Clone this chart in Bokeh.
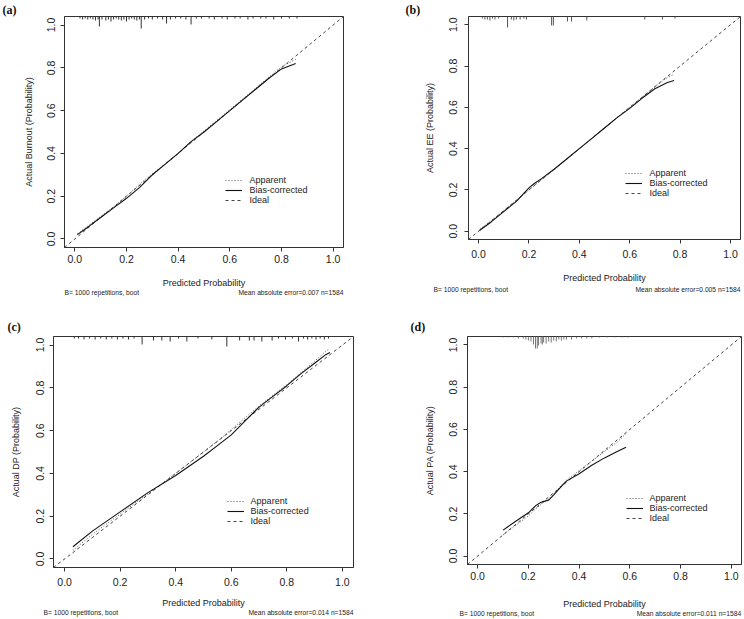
from bokeh.plotting import figure
from bokeh.layouts import column, row
from bokeh.models import (Range1d, FixedTicker, NumeralTickFormatter, Legend, Title,
                          LinearAxis, CustomJSTickFormatter)
from bokeh.embed import file_html
from bokeh.resources import INLINE

# ---------------- data ----------------
LO, HI = -0.04, 1.04
TICKS = [0.0, 0.2, 0.4, 0.6, 0.8, 1.0]
legend_labels = ["Apparent", "Bias-corrected", "Ideal"]
x_title = "Predicted Probability"
foot_left = "B= 1000 repetitions, boot"

# (a) Burnout
a_x = [0.01, 0.05, 0.10, 0.15, 0.20, 0.25, 0.30, 0.35, 0.40, 0.45, 0.50, 0.55, 0.60, 0.65, 0.70, 0.75, 0.80, 0.855]
a_app = [0.025, 0.06, 0.105, 0.15, 0.20, 0.255, 0.305, 0.35, 0.40, 0.455, 0.505, 0.555, 0.605, 0.655, 0.705, 0.755, 0.805, 0.84]
a_bias = [0.02, 0.055, 0.10, 0.145, 0.19, 0.24, 0.30, 0.35, 0.40, 0.455, 0.50, 0.55, 0.60, 0.65, 0.70, 0.75, 0.795, 0.82]
a_rug_x = [0.02, 0.03, 0.04, 0.05, 0.06, 0.07, 0.08, 0.09, 0.095, 0.105, 0.12, 0.13, 0.14, 0.15, 0.16, 0.17, 0.18,
           0.19, 0.20, 0.21, 0.22, 0.23, 0.24, 0.25, 0.257, 0.27, 0.285, 0.30, 0.32, 0.34, 0.355, 0.37, 0.39, 0.41,
           0.43, 0.45, 0.47, 0.49, 0.52, 0.54, 0.57, 0.59, 0.62, 0.64, 0.67, 0.69, 0.72, 0.74, 0.77, 0.80, 0.83, 0.86]
a_rug_n = [2, 3, 2, 3, 2, 3, 4, 3, 10, 3, 4, 3, 5, 3, 2, 3, 4,
           3, 5, 3, 2, 3, 4, 3, 12, 3, 2, 3, 2, 3, 7, 3, 2, 2,
           3, 8, 2, 2, 2, 3, 2, 3, 2, 2, 3, 2, 2, 2, 3, 2, 2, 2]

# (b) EE
b_x = [0.005, 0.05, 0.10, 0.15, 0.20, 0.22, 0.25, 0.30, 0.35, 0.40, 0.45, 0.50, 0.55, 0.60, 0.65, 0.70, 0.75, 0.776]
b_app = [0.01, 0.05, 0.10, 0.15, 0.20, 0.22, 0.25, 0.30, 0.35, 0.40, 0.45, 0.50, 0.55, 0.60, 0.65, 0.70, 0.745, 0.76]
b_bias = [0.005, 0.045, 0.095, 0.145, 0.21, 0.23, 0.255, 0.30, 0.35, 0.40, 0.45, 0.50, 0.55, 0.595, 0.645, 0.69, 0.72, 0.73]
b_rug_x = [0.015, 0.025, 0.035, 0.045, 0.055, 0.065, 0.08, 0.115, 0.13, 0.14, 0.15, 0.165, 0.18, 0.19,
           0.29, 0.297, 0.353, 0.369, 0.43, 0.66, 0.73, 0.78]
b_rug_n = [2, 3, 3, 4, 2, 3, 2, 11, 3, 4, 3, 3, 2, 3,
           9, 9, 5, 5, 4, 3, 3, 2]

# (c) DP
c_x = [0.03, 0.10, 0.20, 0.30, 0.40, 0.50, 0.55, 0.60, 0.65, 0.70, 0.75, 0.80, 0.85, 0.90, 0.94, 0.955]
c_app = [0.04, 0.115, 0.21, 0.305, 0.40, 0.50, 0.55, 0.605, 0.66, 0.715, 0.765, 0.815, 0.87, 0.925, 0.97, 0.985]
c_bias = [0.057, 0.13, 0.22, 0.31, 0.39, 0.48, 0.53, 0.58, 0.645, 0.71, 0.76, 0.81, 0.865, 0.915, 0.955, 0.965]
c_rug_x = [0.035, 0.05, 0.07, 0.09, 0.11, 0.13, 0.15, 0.17, 0.19, 0.21, 0.23, 0.25, 0.279, 0.32, 0.35, 0.38,
           0.41, 0.44, 0.48, 0.53, 0.584, 0.63, 0.665, 0.682, 0.71, 0.747, 0.77, 0.795, 0.82, 0.842, 0.86,
           0.875, 0.89, 0.905, 0.92, 0.935, 0.95]
c_rug_n = [2, 2, 3, 2, 3, 2, 3, 2, 3, 2, 3, 2, 8, 4, 4, 5,
           2, 5, 2, 3, 10, 4, 4, 4, 5, 4, 2, 3, 2, 5, 2,
           3, 2, 3, 2, 3, 2]

# (d) PA
d_x = [0.10, 0.15, 0.20, 0.23, 0.25, 0.28, 0.30, 0.33, 0.35, 0.40, 0.45, 0.50, 0.55, 0.585]
d_app = [0.10, 0.145, 0.19, 0.225, 0.245, 0.27, 0.295, 0.335, 0.36, 0.405, 0.45, 0.495, 0.54, 0.58]
d_bias = [0.123, 0.165, 0.205, 0.24, 0.255, 0.265, 0.29, 0.33, 0.355, 0.39, 0.43, 0.465, 0.495, 0.515]
d_rug_x = [0.10, 0.12, 0.14, 0.16, 0.18, 0.19, 0.20, 0.21, 0.22, 0.228, 0.235, 0.24, 0.25, 0.255, 0.26,
           0.27, 0.28, 0.29, 0.30, 0.31, 0.32, 0.33, 0.34, 0.35, 0.37, 0.39, 0.41, 0.43, 0.45, 0.48,
           0.51, 0.54, 0.57, 0.59]
d_rug_n = [1, 1, 1, 2, 2, 3, 4, 5, 8, 12, 12, 9, 7, 8, 6,
           7, 5, 6, 4, 5, 3, 4, 3, 3, 3, 2, 2, 2, 2, 1,
           1, 1, 1, 1]

panels = [
    dict(tag="(a)", ytitle="Actual Burnout (Probability)", foot="Mean absolute error=0.007 n=1584",
         x=a_x, app=a_app, bias=a_bias, rx=a_rug_x, rn=a_rug_n,
         fw=279, fh=231, bl=64, br=29, bt=14, bb=55,
         tag_left=-62, tag_st=0, foot_dx=0, foot_st=-2,
         xls=3, xts=12, yls=5, yts=11, rug_col="#333333", leg_dy=2.5),
    dict(tag="(b)", ytitle="Actual EE (Probability)", foot="Mean absolute error=0.005 n=1584",
         x=b_x, app=b_app, bias=b_bias, rx=b_rug_x, rn=b_rug_n,
         fw=272, fh=223, bl=96, br=2, bt=14, bb=63,
         tag_left=-63, tag_st=0, foot_dx=-35, foot_st=0,
         xls=6, xts=12, yls=7, yts=12, rug_col="#555555", leg_dy=3),
    dict(tag="(c)", ytitle="Actual DP (Probability)", foot="Mean absolute error=0.014 n=1584",
         x=c_x, app=c_app, bias=c_bias, rx=c_rug_x, rn=c_rug_n,
         fw=300, fh=231, bl=53, br=19, bt=33, bb=53,
         tag_left=-46, tag_st=6, foot_dx=-10, foot_st=-2,
         xls=6, xts=9, yls=5, yts=13, rug_col="#333333", leg_dy=1.5),
    dict(tag="(d)", ytitle="Actual PA (Probability)", foot="Mean absolute error=0.011 n=1584",
         x=d_x, app=d_app, bias=d_bias, rx=d_rug_x, rn=d_rug_n,
         fw=274, fh=228, bl=95, br=1, bt=34, bb=55,
         tag_left=-57, tag_st=6, foot_dx=-8, foot_st=-2,
         xls=3, xts=16, yls=6, yts=12, rug_col="#777777", leg_dy=2),
]

FONT = "Liberation Sans"
TXT = "#222222"
FOOT_SIZE = 6.7


def build(s):
    fw, fh = s["fw"], s["fh"]
    sx = (HI - LO) / fw
    sy = (HI - LO) / fh
    p = figure(frame_width=fw, frame_height=fh,
               x_range=Range1d(LO, HI), y_range=Range1d(LO, HI),
               min_border_left=s["bl"], min_border_right=s["br"],
               min_border_top=s["bt"], min_border_bottom=s["bb"],
               output_backend="svg", toolbar_location=None)
    p.grid.visible = False
    p.outline_line_color = "#333333"
    p.outline_line_width = 1
    p.background_fill_color = "white"
    p.border_fill_color = "white"

    for ax in (p.xaxis[0], p.yaxis[0]):
        ax.ticker = FixedTicker(ticks=TICKS)
        ax.formatter = NumeralTickFormatter(format="0.0")
        ax.minor_tick_line_color = None
        ax.major_tick_in = 0
        ax.major_tick_out = 4
        ax.axis_line_color = "#333333"
        ax.major_tick_line_color = "#333333"
        ax.major_label_text_font = FONT
        ax.major_label_text_font_size = "10.5px"
        ax.major_label_text_color = TXT
        ax.axis_label_text_font = FONT
        ax.axis_label_text_font_size = "9px"
        ax.axis_label_text_font_style = "normal"
        ax.axis_label_text_color = TXT
    p.xaxis[0].axis_label = x_title
    p.xaxis[0].major_label_standoff = s["xls"]
    p.xaxis[0].axis_label_standoff = s["xts"]
    p.yaxis[0].axis_label = s["ytitle"]
    p.yaxis[0].major_label_orientation = "vertical"
    p.yaxis[0].major_label_standoff = s["yls"]
    p.yaxis[0].axis_label_standoff = s["yts"]

    # rug of predicted probabilities hanging from the top border
    top = HI
    p.segment(x0=s["rx"], y0=[top] * len(s["rx"]), x1=s["rx"],
              y1=[top - n * sy for n in s["rn"]],
              line_color=s["rug_col"], line_width=1)

    r_ideal = p.line([LO, HI], [LO, HI], line_color="#444444", line_width=1, line_dash="3 3")
    r_app = p.line(s["x"], s["app"], line_color="#555555", line_width=1, line_dash="1 2")
    r_bias = p.line(s["x"], s["bias"], line_color="#111111", line_width=1.1)

    lx = (0.585 - LO) / sx
    ly = (0.168 - LO) / sy - 5 + s["leg_dy"]
    legend = Legend(items=[(legend_labels[0], [r_app]), (legend_labels[1], [r_bias]),
                           (legend_labels[2], [r_ideal])],
                    location=(lx, ly), border_line_color=None, background_fill_alpha=0,
                    padding=0, margin=0, spacing=0, glyph_width=17, glyph_height=10,
                    label_height=10, label_standoff=7, label_text_font=FONT,
                    label_text_font_size="9px", label_text_color=TXT)
    p.add_layout(legend)

    # panel letter
    p.add_layout(Title(text=s["tag"], align="left", offset=s["tag_left"], standoff=s["tag_st"],
                       text_font="Liberation Serif", text_font_style="bold",
                       text_font_size="12px", text_color="#111111"), "above")

    # footnotes on one line below the axis title
    wl = 11.15 * FOOT_SIZE
    wr = 15.68 * FOOT_SIZE
    c_left = max(LO + (s["foot_dx"] + wl / 2) * sx, LO + 1.5 * sx)
    c_right = HI - (wr / 2) * sx
    foot_axis = LinearAxis(ticker=FixedTicker(ticks=[c_left, c_right]),
                           formatter=CustomJSTickFormatter(
                               args=dict(labels=[foot_left, s["foot"]], mid=0.5 * (c_left + c_right)),
                               code="return tick < mid ? labels[0] : labels[1];"),
                           axis_line_color=None, major_tick_line_color=None,
                           minor_tick_line_color=None, major_tick_in=0, major_tick_out=0,
                           major_label_standoff=s["foot_st"], major_label_text_font=FONT,
                           major_label_text_font_size=f"{FOOT_SIZE}px", major_label_text_color=TXT)
    p.add_layout(foot_axis, "below")
    return p


figs = [build(s) for s in panels]
layout = column(row(figs[0], figs[1]), row(figs[2], figs[3]))
open("out.html", "w").write(file_html(layout, INLINE))
